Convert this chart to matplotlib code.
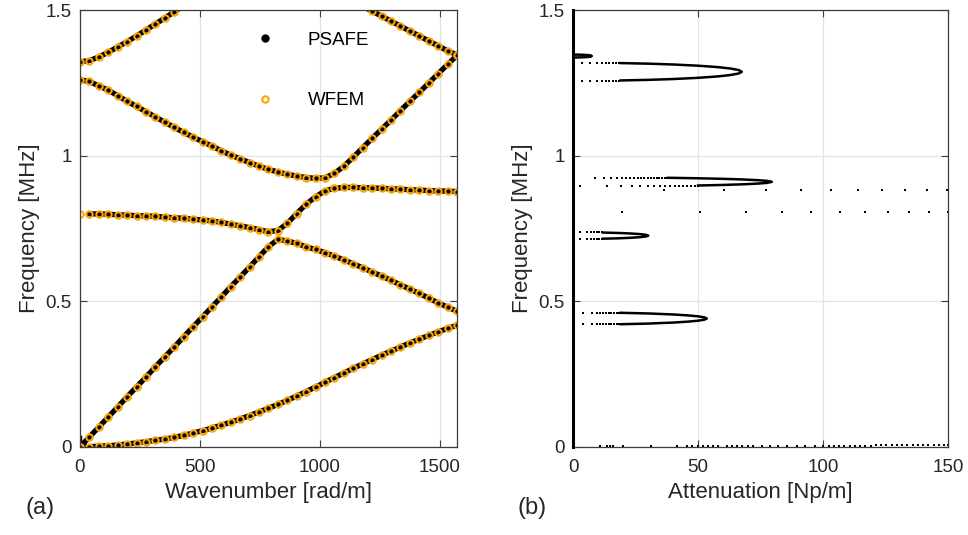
import matplotlib.pyplot as plt
from matplotlib.lines import Line2D

plt.rcParams['font.family'] = ['Liberation Sans', 'DejaVu Sans']

# ---- (a) dispersion curves, WFEM wavenumber grid [rad/m]
k = [0, 39, 79, 118, 157, 196, 236, 275, 314, 353, 393, 432, 471, 511, 550, 589, 628,
     668, 707, 746, 785, 825, 864, 903, 942, 982, 1021, 1060, 1100, 1139, 1178, 1217,
     1257, 1296, 1335, 1374, 1414, 1453, 1492, 1532, 1571]

f_A = [0, 0.001, 0.003, 0.004, 0.007, 0.010, 0.014, 0.018, 0.023, 0.027, 0.033, 0.040,
       0.048, 0.056, 0.065, 0.075, 0.085, 0.096, 0.108, 0.120, 0.133, 0.146, 0.160, 0.175,
       0.190, 0.206, 0.222, 0.238, 0.254, 0.270, 0.285, 0.300, 0.315, 0.329, 0.343, 0.357,
       0.370, 0.383, 0.395, 0.407, 0.418]
f_B = [0, 0.034, 0.069, 0.103, 0.137, 0.172, 0.206, 0.240, 0.275, 0.309, 0.343, 0.378,
       0.412, 0.447, 0.481, 0.515, 0.550, 0.584, 0.618, 0.653, 0.687, 0.713, 0.707, 0.699,
       0.687, 0.678, 0.667, 0.655, 0.642, 0.629, 0.615, 0.601, 0.587, 0.572, 0.557, 0.542,
       0.527, 0.511, 0.495, 0.480, 0.466]
f_C = [0.800, 0.800, 0.800, 0.799, 0.797, 0.796, 0.794, 0.793, 0.792, 0.789, 0.787, 0.785,
       0.782, 0.779, 0.776, 0.771, 0.765, 0.759, 0.753, 0.746, 0.739, 0.743, 0.768, 0.801,
       0.833, 0.859, 0.879, 0.888, 0.891, 0.891, 0.890, 0.889, 0.888, 0.886, 0.885, 0.883,
       0.882, 0.880, 0.879, 0.878, 0.877]
f_D = [1.260, 1.255, 1.239, 1.225, 1.206, 1.187, 1.169, 1.151, 1.133, 1.115, 1.097, 1.080,
       1.064, 1.048, 1.033, 1.017, 1.002, 0.989, 0.976, 0.964, 0.953, 0.944, 0.936, 0.930,
       0.925, 0.922, 0.924, 0.939, 0.964, 0.995, 1.027, 1.059, 1.091, 1.122, 1.154, 1.186,
       1.217, 1.249, 1.281, 1.313, 1.344]
f_E = [1.322, 1.326, 1.339, 1.355, 1.373, 1.391, 1.411, 1.431, 1.452, 1.472, 1.494, 1.515, 1.536]
f_F = [1.513, 1.496, 1.479, 1.462, 1.445, 1.428, 1.411, 1.394, 1.377, 1.360, 1.346]

# ---- (b) attenuation [Np/m] vs frequency [MHz]
loop1_a = [19, 30, 40, 46, 50, 52.5, 53.5, 52.5, 50, 46, 40, 30, 19]
loop1_f = [0.4214, 0.4236, 0.4271, 0.4303, 0.4335, 0.4370, 0.4410, 0.4450, 0.4485, 0.4517,
           0.4549, 0.4584, 0.4606]
loop1_dots = [3.9, 7.5, 9.5, 10.8, 12.1, 13.2, 14.3, 15.3, 16.4, 17.5, 18.5]

loop2_a = [12, 18, 23, 27, 29.3, 30.1, 29.3, 27, 23, 18, 12]
loop2_f = [0.7150, 0.7163, 0.7181, 0.7204, 0.7229, 0.7255, 0.7282, 0.7306, 0.7329, 0.7347, 0.7360]
loop2_dots = [2.8, 5.7, 7.2, 8.4, 9.5, 10.5, 11.6]

loop3_a = [50, 60, 68, 74, 77.5, 79.5, 77.5, 74, 68, 60, 50, 38]
loop3_f = [0.8976, 0.8995, 0.9017, 0.9042, 0.9065, 0.9100, 0.9136, 0.9158, 0.9183, 0.9205,
           0.9224, 0.9241]
loop3_low_dots = [2.8, 13.5, 19.1, 23.5, 26.8, 29.9, 32.5, 34.8, 36.8, 38.8, 40.7, 42.4, 44.1,
                  45.7, 47.2, 48.7, 50.1]
loop3_up_dots = [8.8, 12.5, 15.2, 17.5, 19.5, 21.2, 22.8, 24.4, 25.9, 27.2, 28.5, 29.9, 31.1,
                 32.3, 33.5, 34.5, 35.6, 36.7, 37.7]

loop4_a = [19, 30, 40, 50, 58, 63, 66.3, 67.5, 66.3, 63, 58, 50, 40, 30, 19]
loop4_f = [1.2582, 1.2602, 1.2630, 1.2672, 1.2721, 1.2769, 1.2822, 1.2880, 1.2938, 1.2991,
           1.3039, 1.3088, 1.3130, 1.3158, 1.3178]
loop4_dots = [3.5, 6.8, 9.5, 11.5, 13.1, 14.5, 15.9, 17.2, 18.5]

loop5_a = [0, 3, 5.5, 7, 7.5, 7, 5.5, 3, 0]
loop5_f = [1.337, 1.3374, 1.3384, 1.3397, 1.342, 1.3443, 1.3456, 1.3466, 1.347]

row806_a = [19.5, 50.8, 69.1, 83.5, 95.1, 106.8, 116.7, 125.9, 134.4, 142.4, 150]
row881_a = [36.5, 60.4, 77.2, 91.1, 103.1, 113.9, 123.7, 132.8, 141.5, 149.7]

bottom_a = [10.8, 13.5, 14.8, 16.1, 20.1, 31.2, 41.5, 45.5, 47.5, 50.1, 52.1, 54.1, 56.1,
            58.1, 61.5, 63.5, 65.5, 67.5, 70.1, 72.1, 75.5, 78.8, 82.1, 85.5, 89.5, 92.8,
            96.8, 100.1, 102.2, 104.3, 106.4, 108.5, 110.6, 112.7, 114.8, 116.9, 119.0,
            121.1, 123.2, 125.3, 127.4, 129.5, 131.6, 133.7, 135.8, 137.9, 140.0, 142.1,
            144.2, 146.3, 148.4, 150.0]
bottom_f = [0.003, 0.003, 0.003, 0.003, 0.003, 0.003, 0.003, 0.003, 0.003, 0.003, 0.003,
            0.003, 0.003, 0.003, 0.003, 0.003, 0.003, 0.003, 0.003, 0.003, 0.003, 0.003,
            0.003, 0.003, 0.003, 0.003, 0.003, 0.003, 0.004, 0.004, 0.004, 0.004, 0.005,
            0.005, 0.005, 0.005, 0.005, 0.006, 0.006, 0.006, 0.006, 0.006, 0.007, 0.007,
            0.007, 0.007, 0.007, 0.008, 0.008, 0.008, 0.008, 0.008]

prop_a = [0, 0]
prop_f = [0, 1.5]

orange = '#FFA500'
grid_c = '#E3E3E3'
spine_c = '#3C3C3C'

fig = plt.figure(figsize=(9.68, 5.35), dpi=100)
ax1 = fig.add_axes([0.0826, 0.1645, 0.3895, 0.8168])
ax2 = fig.add_axes([0.5920, 0.1645, 0.3874, 0.8168])


def style(ax):
    ax.grid(True, color=grid_c, lw=0.9)
    ax.set_axisbelow(True)
    for s in ax.spines.values():
        s.set_color(spine_c)
        s.set_linewidth(0.9)
    ax.tick_params(direction='in', top=True, right=True, length=5, width=0.8,
                   colors=spine_c, labelcolor='#262626', labelsize=13.5)
    ax.tick_params(axis='x', pad=9)
    ax.tick_params(axis='y', pad=6)
    ax.set_ylim(0, 1.5)
    ax.set_yticks([0, 0.5, 1, 1.5])
    ax.set_yticklabels(['0', '0.5', '1', '1.5'])
    ax.set_ylabel('Frequency [MHz]', fontsize=16, color='#262626')


# (a)
style(ax1)
lw_ps = 3.8
branches = [(k, f_A), (k, f_B), (k[1:], f_C[1:]), (k, f_D), (k[:13], f_E), (k[30:], f_F)]
for ks, fs in branches:
    ax1.plot(ks, fs, color='k', lw=lw_ps, solid_capstyle='round')
ax1.plot([0, 0], [0, 0.035], color='k', lw=2.5)

for ks, fs in [(k, f_A), (k, f_B), (k, f_C), (k, f_D), (k[:13], f_E), (k[30:], f_F)]:
    ax1.plot(ks, fs, 'o', ls='none', mfc='none', mec=orange, ms=4.6, mew=1.5)

ax1.set_xlim(0, 1571)
ax1.set_xticks([0, 500, 1000, 1500])
ax1.set_xlabel('Wavenumber [rad/m]', fontsize=16, color='#262626')

handles = [Line2D([], [], ls='none', marker='o', color='k', ms=5),
           Line2D([], [], ls='none', marker='o', mfc='none', mec=orange, ms=4.6, mew=1.5)]
ax1.legend(handles, ['PSAFE', 'WFEM'], loc='upper left', bbox_to_anchor=(0.44, 0.95),
           frameon=False, fontsize=13.5, labelspacing=2.3, handletextpad=1.3,
           borderpad=0, borderaxespad=0)

# (b)
style(ax2)
ax2.plot(prop_a, prop_f, color='k', lw=2.2, clip_on=False, zorder=5)
for la, lf in [(loop1_a, loop1_f), (loop2_a, loop2_f), (loop3_a, loop3_f),
               (loop4_a, loop4_f), (loop5_a, loop5_f)]:
    ax2.plot(la, lf, color='k', lw=1.8)

dot = dict(ls='none', marker='s', color='k', ms=1.8, mew=0)
ax2.plot(loop1_dots, [0.4205] * len(loop1_dots), **dot)
ax2.plot(loop1_dots, [0.4615] * len(loop1_dots), **dot)
ax2.plot(loop2_dots, [0.7145] * len(loop2_dots), **dot)
ax2.plot(loop2_dots, [0.7365] * len(loop2_dots), **dot)
ax2.plot(loop3_low_dots, [0.895] * len(loop3_low_dots), **dot)
ax2.plot(loop3_up_dots, [0.925] * len(loop3_up_dots), **dot)
ax2.plot(loop4_dots, [1.257] * len(loop4_dots), **dot)
ax2.plot(loop4_dots, [1.319] * len(loop4_dots), **dot)
ax2.plot(row806_a, [0.806] * len(row806_a), **dot)
ax2.plot(row881_a, [0.881] * len(row881_a), **dot)
ax2.plot(bottom_a, bottom_f, **dot)

ax2.set_xlim(0, 150)
ax2.set_xticks([0, 50, 100, 150])
ax2.set_xlabel('Attenuation [Np/m]', fontsize=16, color='#262626')

fig.text(0.026, 0.04, '(a)', fontsize=17, color='#262626')
fig.text(0.535, 0.04, '(b)', fontsize=17, color='#262626')

fig.savefig('out.png', dpi=100)
